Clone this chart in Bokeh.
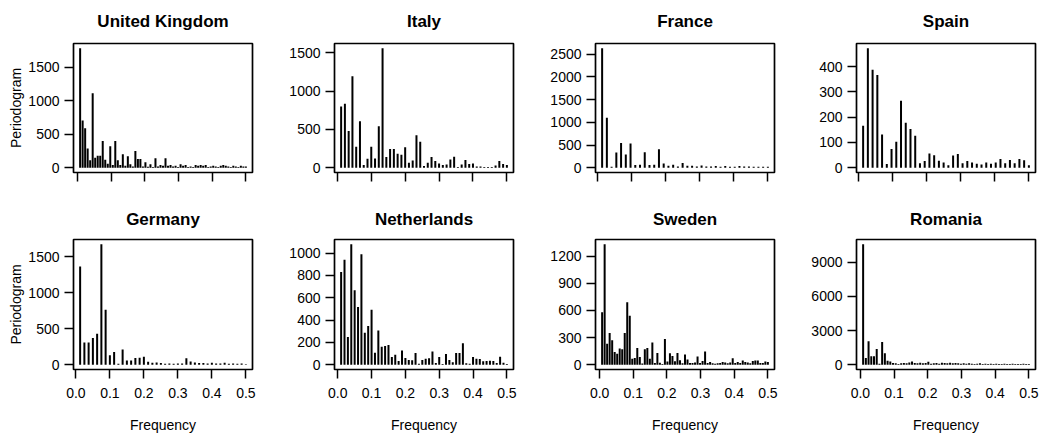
from bokeh.plotting import figure
from bokeh.layouts import gridplot
from bokeh.models import (FixedTicker, CustomJSTickFormatter, PrintfTickFormatter,
                          ColumnDataSource, Range1d)
from bokeh.embed import file_html
from bokeh.resources import INLINE

# ---------------- data ----------------
countries = ["United Kingdom", "Italy", "France", "Spain",
             "Germany", "Netherlands", "Sweden", "Romania"]

# series length of each country (frequencies are k / n, k = 1 .. n/2)
n_obs = [134, 90, 72, 72, 80, 100, 134, 124]

uk = [1781, 705, 587, 286, 110, 1110, 150, 180, 180, 400,
      120, 60, 320, 40, 400, 110, 40, 200, 30, 170,
      50, 20, 250, 130, 130, 20, 80, 15, 50, 10,
      140, 20, 40, 30, 140, 30, 40, 20, 30, 10,
      50, 30, 40, 10, 20, 10, 40, 30, 40, 30,
      40, 10, 20, 30, 20, 10, 30, 40, 30, 20,
      10, 30, 20, 10, 30, 20, 20]

italy = [798, 837, 481, 1196, 273, 607, 35, 117, 273, 121,
         542, 1560, 139, 243, 243, 182, 169, 269, 65, 95,
         425, 338, 22, 65, 139, 87, 56, 35, 43, 108,
         143, 9, 43, 100, 48, 56, 17, 17, 9, 9,
         9, 30, 87, 48, 35]

france = [2631, 1100, 22, 335, 547, 292, 532, 58, 65, 343,
          58, 65, 408, 95, 44, 66, 29, 102, 44, 44,
          29, 51, 29, 29, 36, 22, 36, 22, 22, 36,
          29, 29, 22, 22, 22, 22]

spain = [166, 473, 388, 367, 132, 15, 74, 103, 265, 178,
         153, 127, 18, 27, 56, 49, 28, 21, 10, 48,
         54, 18, 27, 21, 16, 13, 21, 16, 21, 35,
         18, 31, 18, 35, 30, 10]

germany = [1366, 310, 310, 370, 430, 1676, 764, 130, 176, 14,
           213, 60, 60, 93, 95, 110, 42, 28, 32, 23,
           14, 18, 14, 18, 18, 88, 46, 32, 23, 23,
           18, 28, 18, 18, 28, 14, 18, 14, 18, 5]

netherlands = [830, 940, 248, 1078, 666, 516, 988, 287, 346, 493,
               107, 307, 161, 167, 176, 69, 90, 33, 128, 60,
               42, 39, 104, 9, 42, 54, 57, 119, 15, 69,
               6, 96, 42, 21, 104, 104, 191, 12, 9, 69,
               54, 51, 30, 33, 36, 33, 15, 72, 18, 6]

sweden = [580, 1330, 230, 350, 270, 140, 120, 180, 170, 350,
          690, 540, 65, 75, 185, 85, 12, 170, 185, 65,
          245, 20, 130, 22, 8, 285, 35, 125, 95, 38,
          130, 48, 15, 112, 56, 20, 20, 25, 90, 20,
          40, 145, 20, 30, 15, 10, 15, 20, 30, 25,
          15, 25, 70, 20, 30, 20, 45, 30, 25, 15,
          40, 45, 45, 20, 20, 35, 30]

romania = [10590, 590, 2060, 735, 735, 1380, 90, 2000, 1000, 350,
           290, 150, 120, 60, 120, 150, 120, 200, 290, 150,
           120, 180, 120, 150, 260, 90, 120, 150, 90, 180,
           150, 120, 180, 120, 150, 120, 90, 120, 90, 120,
           90, 60, 90, 120, 60, 90, 60, 90, 60, 90,
           60, 60, 90, 60, 60, 90, 60, 60, 60, 90,
           60, 60]

series = [uk, italy, france, spain, germany, netherlands, sweden, romania]

y_ticks = [[0, 500, 1000, 1500],
           [0, 500, 1000, 1500],
           [0, 500, 1000, 1500, 2000, 2500],
           [0, 100, 200, 300, 400],
           [0, 500, 1000, 1500],
           [0, 200, 400, 600, 800, 1000],
           [0, 300, 600, 900, 1200],
           [0, 3000, 6000, 9000]]

x_ticks = [0.0, 0.1, 0.2, 0.3, 0.4, 0.5]

x_label = "Frequency"
y_label = "Periodogram"

FONT = "Liberation Sans"


def make_panel(idx):
    row, col = divmod(idx, 4)
    top = row == 0
    width = 262 if col == 3 else 261
    height = 192 if top else 249
    spec = series[idx]
    n = n_obs[idx]
    freqs = [(k + 1) / n for k in range(len(spec))]

    f0, f1 = freqs[0], freqs[-1]
    xr = f1 - f0
    ymax = max(spec)
    p = figure(width=width, height=height, output_backend="svg",
               toolbar_location=None,
               x_range=Range1d(f0 - 0.04 * xr, f1 + 0.04 * xr),
               y_range=Range1d(-0.04 * ymax, 1.04 * ymax),
               min_border_left=73, min_border_right=width - 73 - 179,
               min_border_top=43 if top else 47,
               min_border_bottom=20 if top else 72,
               title=countries[idx])
    p.title.text_font = FONT
    p.title.text_font_style = "bold"
    p.title.text_font_size = "17px"
    p.title.align = "center"
    p.title.vertical_align = "top"
    p.title.standoff = 22 if top else 18
    p.title.text_color = "black"

    src = ColumnDataSource(dict(f=freqs, s=spec))
    p.segment(x0="f", y0=0, x1="f", y1="s", source=src,
              line_color="black", line_width=2)

    p.grid.visible = False
    p.outline_line_color = "black"
    p.outline_line_width = 1.7
    p.outline_line_alpha = 1.0
    p.background_fill_color = "white"
    p.border_fill_color = "white"

    for ax in (p.xaxis[0], p.yaxis[0]):
        ax.axis_line_color = None
        ax.major_tick_out = 9
        ax.major_tick_in = 0
        ax.major_tick_line_width = 1.5
        ax.major_tick_line_color = "black"
        ax.minor_tick_line_color = None
        ax.major_label_text_font = FONT
        ax.major_label_text_font_size = "14px"
        ax.major_label_text_color = "black"
        ax.axis_label_text_font = FONT
        ax.axis_label_text_font_size = "14px"
        ax.axis_label_text_font_style = "normal"
        ax.axis_label_text_color = "black"

    p.xaxis.ticker = FixedTicker(ticks=x_ticks)
    p.yaxis.ticker = FixedTicker(ticks=y_ticks[idx])
    p.yaxis.major_label_orientation = "horizontal"
    p.yaxis.major_label_standoff = 5

    if top:
        p.xaxis.formatter = CustomJSTickFormatter(code="return ''")
    else:
        p.xaxis.formatter = PrintfTickFormatter(format="%.1f")
        p.xaxis.major_label_standoff = 9
        p.xaxis.axis_label = x_label
        p.xaxis.axis_label_standoff = 16

    if col == 0:
        p.yaxis.axis_label = y_label
        p.yaxis.axis_label_standoff = 1
    return p


panels = [make_panel(i) for i in range(8)]
grid = gridplot([panels[:4], panels[4:]], toolbar_location=None)

open("out.html", "w").write(file_html(grid, INLINE))
